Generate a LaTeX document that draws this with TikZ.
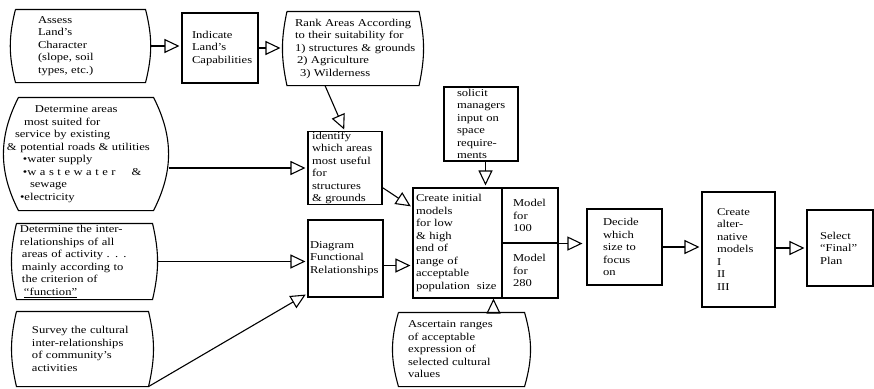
\documentclass[tikz,border=0pt]{standalone}
\usepackage{fontspec}
\setmainfont{Liberation Serif}[FakeStretch=1.2]
\usetikzlibrary{arrows.meta}

\begin{document}
\begin{tikzpicture}[x=1pt, y=-1pt,
      box/.style ={draw, line width=1.1pt, inner sep=0pt, align=left,
                   font=\fontsize{10.5pt}{12.5pt}\selectfont},
      bowed/.style ={box, draw=none},
      lpad/.style ={execute at begin node={\leftskip=#1\relax}},
      arr/.style ={line width=1.1pt, -{Triangle[open, length=15pt, width=14pt]}, shorten >=2pt}]
   \useasboundingbox (0,0) rectangle (874,388);

   % boxes with bowed sides
   \node[bowed, text width=139pt, minimum height=72pt, lpad=27pt] (assess) at (80.5,46)
      {Assess\\Land's\\Character\\(slope, soil\\types, etc.)};
   \node[bowed, text width=140pt, minimum height=73pt, lpad=12pt] (rank) at (353,48.5)
      {Rank Areas According\\\makebox[118pt][s]{to their suitability for}\\1) structures \& grounds\\\hspace*{2pt}2) Agriculture\\\hspace*{5pt}3) Wilderness};
   \node[bowed, text width=164pt, minimum height=112pt, lpad=3pt] (service) at (86,154)
      {\hspace*{28pt}Determine areas\\\hspace*{17pt}most suited for\\\hspace*{8pt}service by existing\\\& potential roads \& utilities\\\hspace*{16pt}\textbullet water supply\\\hspace*{16pt}\makebox[122pt][s]{\textbullet w a s t e w a t e r\hspace{1.2em} \&}\\\hspace*{23pt}sewage\\\hspace*{13pt}\textbullet electricity};
   \node[bowed, text width=145pt, minimum height=75pt, lpad=8pt] (interrel) at (84.5,261.5)
      {Determine the inter-\\relationships of all\\\hspace*{2pt}areas of activity . . .\\\hspace*{2pt}mainly according to\\\hspace*{2pt}the criterion of\\\hspace*{4pt}\underline{``function''}};
   \node[bowed, text width=141pt, minimum height=74pt, lpad=20pt] (survey) at (82.5,349)
      {Survey the cultural\\inter-relationships\\of community's\\activities};
   \node[bowed, text width=137pt, minimum height=73pt, lpad=15pt] (ascertain) at (461.5,349.5)
      {Ascertain ranges\\of acceptable\\expression of\\selected cultural\\values};

   \foreach \n/\s/\b in {assess/5/14, rank/4.5/12, service/15/27, interrel/5/13, survey/5/13, ascertain/6/16}
      \draw[line width=1.1pt] ([xshift=\s pt]\n.north west) -- ([xshift=-\s pt]\n.north east)
         to[bend left=\b] ([xshift=-\s pt]\n.south east) -- ([xshift=\s pt]\n.south west)
         to[bend left=\b] ([xshift=\s pt]\n.north west);

   % plain boxes
   \node[box, text width=76pt, minimum height=70pt, lpad=10pt] (indicate) at (220,48)
      {Indicate\\Land's\\Capabilities};
   \node[box, text width=74pt, minimum height=72pt, lpad=4pt] (identify) at (345,168)
      {identify\\which areas\\most useful\\for\\structures\\\& grounds};
   \node[box, text width=75pt, minimum height=77pt, lpad=2pt] (diagram) at (345.5,258.5)
      {Diagram\\Functional\\Relationships};
   \node[box, text width=74pt, minimum height=74pt, lpad=13pt] (solicit) at (481,124)
      {solicit\\managers\\input on\\space\\require-\\ments};
   \node[box, text width=145pt, minimum height=110pt, lpad=3pt] (create) at (485.5,243)
      {Create initial\\models\\for low\\\& high\\end of\\range of\\acceptable\\population\ \ size};
   \node[box, text width=56pt, minimum height=55pt, lpad=11pt] (m100) at (530,215.5)
      {Model\\for\\100};
   \node[box, text width=56pt, minimum height=55pt, lpad=11pt] (m280) at (530,270.5)
      {Model\\for\\280};
   \node[box, text width=75pt, minimum height=76pt, lpad=16pt] (decide) at (624.5,247)
      {Decide\\which\\size to\\focus\\on};
   \node[box, text width=73pt, minimum height=115pt, lpad=15pt] (alt) at (738.5,249.5)
      {Create\\alter-\\native\\models\\I\\II\\III};
   \node[box, text width=66pt, minimum height=76pt, lpad=13pt] (select) at (840,248)
      {Select\\``Final''\\Plan};

   \coordinate (dgOut) at ([yshift=-7pt]diagram.east);
   \coordinate (ascTop) at ([xshift=32pt]ascertain.north);

   \draw[arr] (assess.east) -- (assess.east -| indicate.west);
   \draw[arr] (indicate.east) -- (indicate.east -| rank.west);
   \draw[arr] ([xshift=-28pt]rank.south) -- (identify.north);
   \draw[arr] (identify.west -| service.east) -- (identify.west);
   \draw[arr] (interrel.east) -- (interrel.east -| diagram.west);
   \draw[arr] ([xshift=-5pt]survey.south east) -- ([yshift=4pt]diagram.south west);
   \draw[arr] ([yshift=17pt]identify.south east) -- ([yshift=-20pt]create.north west);
   \draw[arr] (dgOut) -- (dgOut -| create.west);
   \draw[arr] (solicit.south -| create.north) -- (create.north);
   \draw[arr, shorten >=0pt] (ascTop) -- (ascTop |- create.south);
   \draw[arr, shorten >=4pt] (m100.south east) -- (m100.south east -| decide.west);
   \draw[arr] (decide.east) -- (decide.east -| alt.west);
   \draw[arr] (select.west -| alt.east) -- (select.west);
\end{tikzpicture}
\end{document}
